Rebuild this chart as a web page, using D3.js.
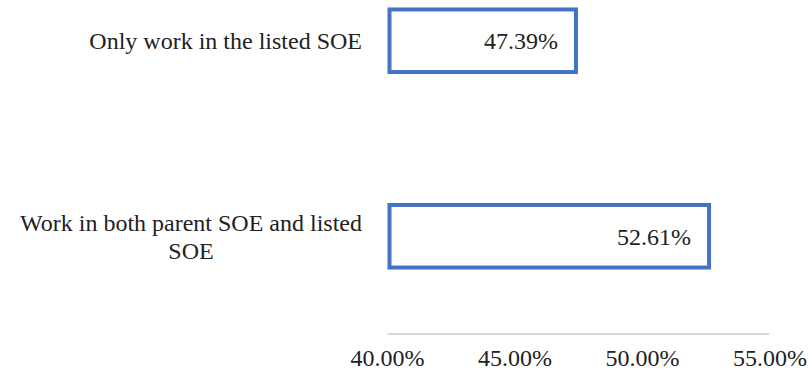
<!DOCTYPE html>
<html>
<head>
<meta charset="utf-8">
<script src="https://cdn.jsdelivr.net/npm/d3@7"></script>
<style>
  html, body { margin: 0; padding: 0; background: #fff; }
  svg text { font-family: "Liberation Serif", Tinos, "Times New Roman", "Nimbus Roman", "DejaVu Serif", serif; }
  .cat-label, .tick-label, .value-label { fill: #222; font-size: 24px; }
  .bar { fill: #fff; stroke: #4472c4; stroke-width: 4; }
  .axis-line { stroke: #d9d9d9; stroke-width: 2; }
</style>
</head>
<body>
<svg id="chart" width="808" height="375"></svg>
<script>
// data
const categories = ["Only work in the listed SOE", "Work in both parent SOE and listed SOE"];
const shares = [47.39, 52.61];
const xTicks = [40, 45, 50, 55];

const serif = '"Liberation Serif", Tinos, "Times New Roman", "Nimbus Roman", "DejaVu Serif", serif';
const svg = d3.select("#chart");
const axisY = 334;
const labelRight = 362;
const wrapWidth = 360;

const xScale = d3.scaleLinear().domain([40, 55]).range([387.5, 770]);
const yScale = d3.scaleBand().domain(categories).range([-57, axisY])
  .paddingInner(0.68).paddingOuter(0.34);

// axis line (no ticks)
svg.append("line").attr("class", "axis-line")
  .attr("x1", xScale(40)).attr("x2", xScale(55) - 1)
  .attr("y1", axisY).attr("y2", axisY);

svg.selectAll(".tick-label").data(xTicks).join("text")
  .attr("class", "tick-label")
  .attr("font-family", serif)
  .attr("x", d => xScale(d)).attr("y", 366)
  .attr("text-anchor", "middle")
  .text(d => d3.format(".2f")(d) + "%");

// bars are outlined boxes starting at the axis minimum
svg.selectAll(".bar").data(shares).join("rect")
  .attr("class", "bar")
  .attr("x", xScale(40) + 2)
  .attr("y", (d, i) => yScale(categories[i]))
  .attr("width", d => xScale(d) - xScale(40) - 2)
  .attr("height", yScale.bandwidth());

svg.selectAll(".value-label").data(shares).join("text")
  .attr("class", "value-label")
  .attr("font-family", serif)
  .attr("x", d => xScale(d) - 18)
  .attr("y", (d, i) => yScale(categories[i]) + yScale.bandwidth() / 2)
  .attr("dy", "0.35em")
  .attr("text-anchor", "end")
  .text(d => d.toFixed(2) + "%");

/* category labels: wrap, then right-align the block and centre each line in it */
const lineH = 28;
categories.forEach(cat => {
  const words = cat.split(" ");
  const probe = svg.append("text").attr("class", "cat-label").attr("font-family", serif);
  const lines = [];
  let cur = [];
  words.forEach(w => {
    const test = cur.concat(w).join(" ");
    probe.text(test);
    if (probe.node().getComputedTextLength() > wrapWidth && cur.length) {
      lines.push(cur.join(" "));
      cur = [w];
    } else {
      cur.push(w);
    }
  });
  lines.push(cur.join(" "));
  const widths = lines.map(l => { probe.text(l); return probe.node().getComputedTextLength(); });
  probe.remove();

  const blockW = d3.max(widths);
  const cx = labelRight - blockW / 2;
  const cy = yScale(cat) + yScale.bandwidth() / 2;
  const top = cy - (lines.length - 1) * lineH / 2;

  const t = svg.append("text").attr("class", "cat-label")
    .attr("font-family", serif).attr("text-anchor", "middle");
  lines.forEach((l, i) => {
    t.append("tspan").attr("x", cx).attr("y", top + i * lineH).attr("dy", "0.35em").text(l);
  });
});
</script>
</body>
</html>
